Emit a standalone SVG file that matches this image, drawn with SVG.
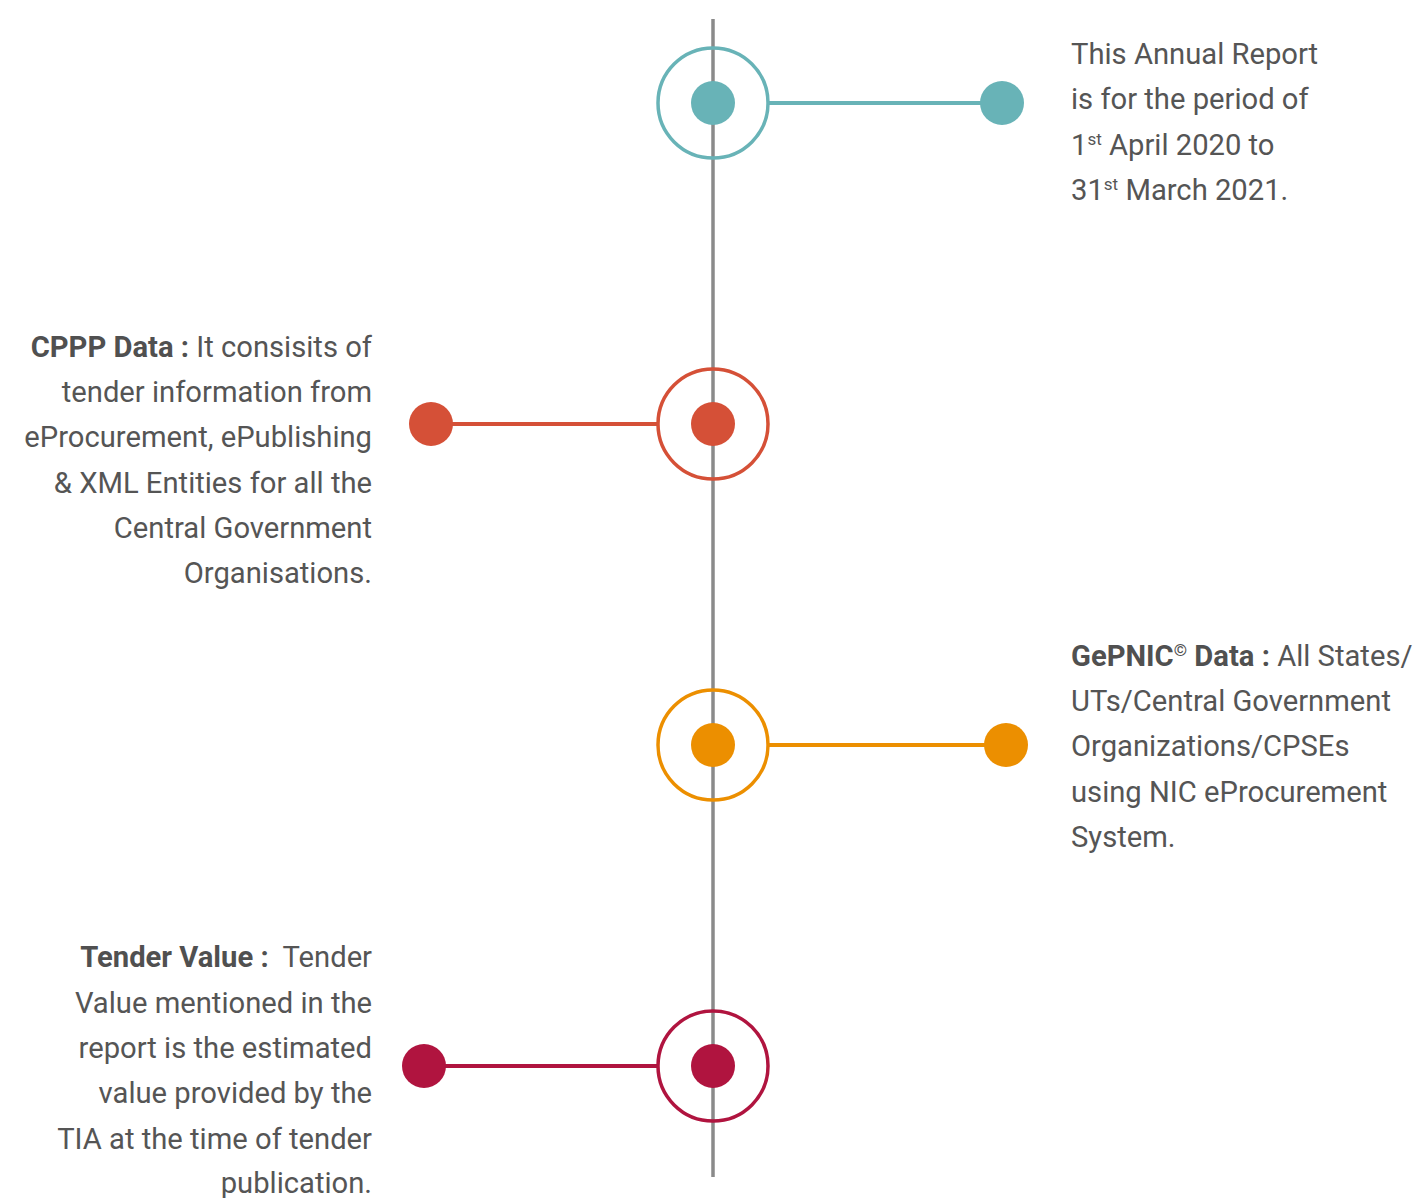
<svg xmlns="http://www.w3.org/2000/svg" width="1416" height="1198" viewBox="0 0 1416 1198">
<style>
.t{font-family:Roboto,"Liberation Sans",sans-serif;font-size:29.2px;fill:#555555}
.r{text-anchor:end}
.b{font-weight:bold;fill:#505050}
.sup{font-size:17px}
.ring{fill:none;stroke-width:3.5}
.ln{stroke-width:4;fill:none}
</style>
<rect width="1416" height="1198" fill="#ffffff"/>
<g id="connectors">
<line x1="713" y1="19" x2="713" y2="1177" stroke="#8a8a8a" stroke-width="3.5"/>
<line class="ln" x1="769" y1="103" x2="1002" y2="103" stroke="#68B3B7"/>
<line class="ln" x1="431" y1="424" x2="659" y2="424" stroke="#D55037"/>
<line class="ln" x1="769" y1="745" x2="1006" y2="745" stroke="#EC8F00"/>
<line class="ln" x1="424" y1="1066" x2="659" y2="1066" stroke="#B0143F"/>
</g>
<g id="node1">
<circle class="ring" cx="713" cy="103" r="55" stroke="#68B3B7"/>
<circle cx="713" cy="103" r="22" fill="#68B3B7"/>
<circle cx="1002" cy="103" r="22" fill="#68B3B7"/>
<text class="t" x="1071" y="64">This Annual Report</text>
<text class="t" x="1071" y="109">is for the period of</text>
<text class="t" x="1071" y="155">1<tspan class="sup" dy="-10">st</tspan><tspan dy="10"> April 2020 to</tspan></text>
<text class="t" x="1071" y="200">31<tspan class="sup" dy="-10">st</tspan><tspan dy="10"> March 2021.</tspan></text>
</g>
<g id="node2">
<circle class="ring" cx="713" cy="424" r="55" stroke="#D55037"/>
<circle cx="713" cy="424" r="22" fill="#D55037"/>
<circle cx="431" cy="424" r="22" fill="#D55037"/>
<text class="t r" x="372" y="357"><tspan class="b">CPPP Data :</tspan> It consisits of</text>
<text class="t r" x="372" y="402">tender information from</text>
<text class="t r" x="372" y="447">eProcurement, ePublishing</text>
<text class="t r" x="372" y="493">&amp; XML Entities for all the</text>
<text class="t r" x="372" y="538">Central Government</text>
<text class="t r" x="372" y="583">Organisations.</text>
</g>
<g id="node3">
<circle class="ring" cx="713" cy="745" r="55" stroke="#EC8F00"/>
<circle cx="713" cy="745" r="22" fill="#EC8F00"/>
<circle cx="1006" cy="745" r="22" fill="#EC8F00"/>
<text class="t" x="1071" y="666"><tspan class="b">GePNIC</tspan><tspan class="b sup" dy="-10">©</tspan><tspan class="b" dy="10"> Data :</tspan> All States/</text>
<text class="t" x="1071" y="711">UTs/Central Government</text>
<text class="t" x="1071" y="756">Organizations/CPSEs</text>
<text class="t" x="1071" y="802">using NIC eProcurement</text>
<text class="t" x="1071" y="847">System.</text>
</g>
<g id="node4">
<circle class="ring" cx="713" cy="1066" r="55" stroke="#B0143F"/>
<circle cx="713" cy="1066" r="22" fill="#B0143F"/>
<circle cx="424" cy="1066" r="22" fill="#B0143F"/>
<text class="t r" x="372" y="967"><tspan class="b">Tender Value :</tspan>&#160; Tender</text>
<text class="t r" x="372" y="1013">Value mentioned in the</text>
<text class="t r" x="372" y="1058">report is the estimated</text>
<text class="t r" x="372" y="1103">value provided by the</text>
<text class="t r" x="372" y="1149">TIA at the time of tender</text>
<text class="t r" x="372" y="1193">publication.</text>
</g>
</svg>
